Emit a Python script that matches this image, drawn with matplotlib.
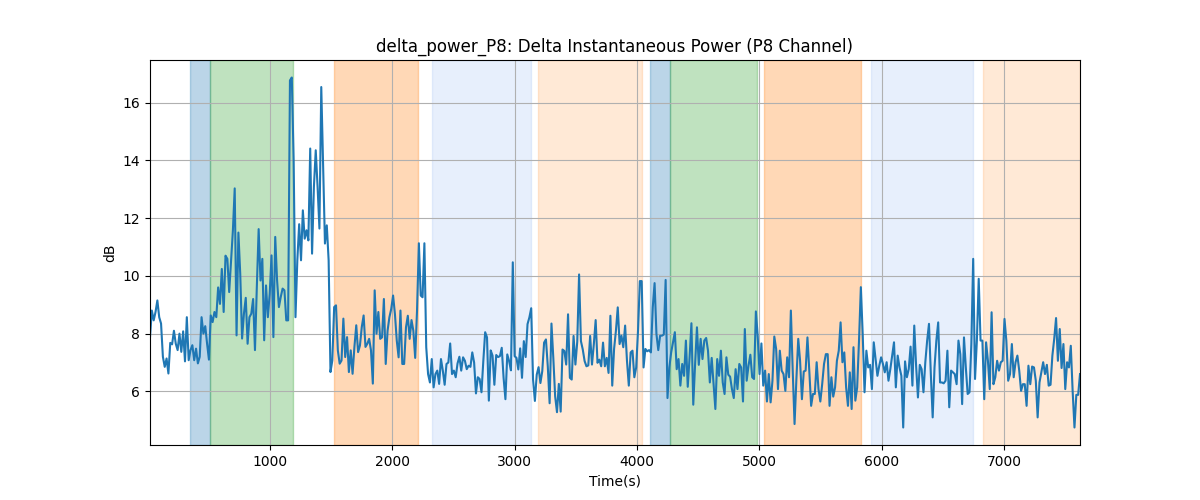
import numpy as np
import matplotlib
matplotlib.use('Agg')
import matplotlib.pyplot as plt

# sample clock of the recording [s]
t_start = 19
t_end = 7622

# delta power, P8 channel [dB] left to right
power_db = [
    7.88, 8.8, 8.46, 8.75, 9.15, 8.57, 8.35, 7.2, 6.85, 7.14, 6.62, 7.68, 7.63, 8.1, 7.65, 7.43,
    8.0, 7.37, 8.08, 7.04, 8.57, 7.08, 7.43, 7.6, 7.08, 7.48, 6.97, 7.2, 8.57, 8.0, 8.26, 7.65,
    7.1, 8.63, 8.4, 8.75, 8.57, 9.6, 9.03, 10.24, 8.75, 10.7, 10.59, 9.44, 10.47, 11.56, 13.03,
    7.94, 11.5, 10.07, 7.83, 8.69, 9.24, 7.65, 8.57, 8.69, 9.2, 7.43, 9.6, 11.62, 9.84, 10.59,
    # ~970 s
    7.77, 9.67, 8.57, 9.38, 10.71, 7.88, 11.35, 9.85, 8.92, 9.27, 9.56, 9.5, 8.46, 8.46, 16.77,
    16.87, 14.0, 8.57, 10.54, 11.79, 10.54, 12.27, 11.29, 11.58, 11.23, 14.41, 10.77, 13.08, 14.35,
    13.08, 11.64, 16.54, 13.77, 11.12, 11.75, 10.54, 6.67, 7.07, 8.92, 8.98, 7.42, 6.96, 7.07, 8.52,
    7.19, 7.88, 6.67, 7.42, 6.61, 7.54, 8.29, 7.36, 7.59, 8.23, 8.63, 7.54, 7.65, 7.82, 7.42,
    6.27, 9.5, 8.0, 8.75,
    # ~1920 s
    7.82, 7.87, 9.2, 6.95, 8.1, 8.57, 8.86, 9.32, 8.68, 7.76, 7.18, 8.8, 6.95, 6.95, 8.22, 8.62,
    7.82, 8.47, 8.1, 7.16, 8.8, 11.13, 9.32, 9.26, 11.13, 7.53, 6.6, 6.31, 7.12, 6.14, 6.6, 6.72,
    6.26, 7.12, 6.72, 6.23, 6.95, 7.0, 7.66, 6.6, 6.72, 6.49, 6.97, 7.2, 6.72, 7.18, 7.06, 6.77,
    6.89, 6.85, 7.35, 7.0, 5.93, 6.49, 6.43, 5.97, 7.06, 8.05, 7.87, 5.68, 7.42, 7.24,
    # ~2860 s
    6.23, 7.26, 7.19, 7.22, 7.51, 6.47, 5.73, 7.28, 7.05, 6.73, 10.47, 7.22, 7.16, 6.76, 7.49,
    6.47, 7.74, 7.19, 8.33, 8.56, 8.88, 6.41, 5.67, 6.58, 6.84, 6.29, 6.7, 7.69, 7.8, 6.87, 5.59,
    8.35, 7.16, 5.83, 5.28, 6.26, 5.3, 7.45, 7.4, 6.93, 8.67, 6.47, 6.41, 7.92, 6.93, 7.72, 10.05,
    7.74, 7.45, 7.05, 6.87, 6.9, 7.92, 6.93, 7.63, 8.47, 6.99, 7.1, 6.87, 7.69, 6.87, 7.16, 6.64,
    # ~3810 s
    8.62, 6.2, 7.47, 8.1, 8.91, 7.64, 7.93, 7.53, 8.28, 7.06, 6.2, 7.35, 7.41, 6.49, 6.83, 8.1,
    9.82, 9.82, 6.83, 7.47, 7.39, 7.43, 7.35, 8.91, 9.75, 7.99, 7.43, 7.93, 7.93, 7.97, 9.86, 5.77,
    6.83, 7.35, 7.7, 8.05, 6.77, 7.12, 6.2, 6.95, 6.54, 7.76, 6.16, 7.18, 8.36, 5.54, 6.95, 8.22,
    6.92, 7.82, 7.12, 7.76, 7.85, 7.41, 6.31, 7.16, 6.28, 5.39, 7.12, 6.54, 7.41, 6.31, 5.91,
    # ~4760 s
    7.18, 6.58, 6.51, 6.08, 5.77, 6.77, 6.08, 6.95, 6.83, 5.65, 8.16, 6.37, 6.89, 7.27, 6.49, 6.43,
    8.77, 7.9, 6.6, 7.66, 6.2, 6.72, 5.65, 6.6, 5.62, 6.37, 7.9, 7.47, 6.08, 7.41, 6.72, 6.6, 6.02,
    7.18, 6.49, 8.8, 6.72, 4.87, 6.43, 7.82, 7.06, 5.73, 6.69, 6.72, 7.87, 6.72, 5.5, 5.91, 5.91,
    7.01, 6.08, 5.65, 6.25, 6.95, 7.29, 7.29, 5.5, 6.49, 5.82, 6.14, 7.06, 7.41, 8.39, 7.01,
    # ~5710 s
    7.35, 6.14, 5.5, 6.66, 5.39, 7.53, 5.68, 6.14, 7.76, 9.61, 7.99, 5.97, 7.41, 6.83, 6.92, 6.08,
    7.7, 7.12, 6.54, 6.89, 7.18, 6.95, 6.66, 7.01, 6.37, 6.77, 7.24, 7.7, 6.14, 7.24, 6.83, 6.54,
    4.75, 7.04, 6.49, 6.77, 7.55, 6.2, 8.28, 6.89, 5.79, 6.92, 6.77, 5.97, 7.01, 7.76, 8.34, 6.6,
    5.1, 6.83, 7.76, 8.39, 6.31, 6.31, 6.28, 6.37, 7.41, 5.45, 6.72, 6.66, 6.6, 6.25, 7.76, 7.29,
    # ~6660 s
    5.56, 7.87, 6.83, 5.91, 5.97, 7.64, 10.59, 6.43, 7.76, 9.9, 7.76, 7.76, 5.73, 7.7, 7.06, 6.08,
    8.74, 6.25, 6.49, 7.06, 6.72, 7.01, 7.06, 8.51, 7.76, 6.37, 6.6, 7.64, 6.49, 7.01, 7.24, 6.72,
    6.02, 6.25, 6.25, 5.5, 6.89, 6.25, 6.86, 6.83, 6.37, 5.1, 6.31, 6.66, 7.01, 6.6, 6.92, 6.2,
    6.23, 7.24, 7.82, 8.54, 7.06, 8.16, 6.81, 7.64, 6.08, 7.01, 6.83, 7.58, 6.02, 4.75, 5.88,
    5.88, 6.6,
]

# labelled segments: start, end [s] and shading
seg_start = [346, 509, 1523, 2324, 3190, 4106, 4270, 5038, 5912, 6828]
seg_end = [509, 1187, 2210, 3133, 4045, 4270, 4981, 5831, 6746, 7622]
seg_color = ['tab:blue', 'tab:green', 'tab:orange', 'cornflowerblue', 'tab:orange',
             'tab:blue', 'tab:green', 'tab:orange', 'cornflowerblue', 'tab:orange']
seg_alpha = [0.3, 0.3, 0.3, 0.15, 0.17, 0.3, 0.3, 0.3, 0.15, 0.17]

T = np.linspace(t_start, t_end, len(power_db))

fig = plt.figure(figsize=(12, 5), dpi=100)
ax1 = fig.add_subplot(111)
for s, e, c, a in zip(seg_start, seg_end, seg_color, seg_alpha):
    ax1.axvspan(s, e, color=c, alpha=a)
ax1.plot(T, power_db, color='tab:blue')
ax1.set_xlim(t_start, t_end)
ax1.grid(True)
ax1.set(title="delta_power_P8: Delta Instantaneous Power (P8 Channel)",
        ylabel='dB',
        xlabel='Time(s)')
fig.savefig('out.png')
